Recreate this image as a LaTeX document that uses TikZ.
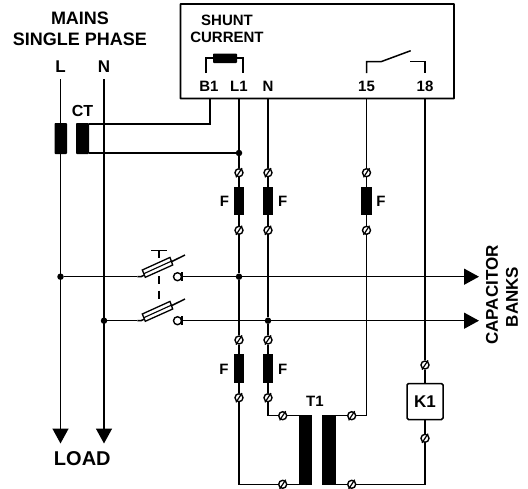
\documentclass[tikz,border=0pt]{standalone}
\usepackage{fontspec}
\setmainfont{Liberation Sans}
\usetikzlibrary{arrows.meta}
\tikzset{
  wire/.style={line width=1.5pt},
  box/.style={line width=1.9pt},
  coil/.style={fill=black,rounded corners=0.8pt},
  term/.style={circle,draw,line width=1.4pt,fill=white,inner sep=0pt,minimum size=8pt},
  dot/.style={circle,fill=black,inner sep=0pt,minimum size=6.5pt},
  lab/.style={font=\bfseries\fontsize{15}{15}\selectfont,inner sep=0pt},
  arr/.style={wire,-{Triangle[length=15pt,width=16pt]}}
}
\begin{document}
\begin{tikzpicture}[x=1pt, y=-1pt]
\useasboundingbox (0,0) rectangle (528,488);
% meter
\draw[box,rounded corners=0.5pt] (180.5,4) rectangle (454,98.5);
\coordinate (b1) at (210,98.5);
\coordinate (l1) at (239,98.5);
\coordinate (nn) at (268,98.5);
\coordinate (c15) at (366.5,98.5);
\coordinate (c18) at (425,98.5);
\node[lab] at (227,20.7) {SHUNT};
\node[lab] at (227,37.7) {CURRENT};
\node[lab] at (209,86) {B1};
\node[lab] at (239,86) {L1};
\node[lab] at (268,86) {N};
\node[lab] at (366.5,86) {15};
\node[lab] at (425,86) {18};
\draw[wire] (206,73)--(206,58)--(243,58)--(243,73);
\fill[coil] (213,53.5) rectangle (237,63);
\draw[wire] (366.5,73)--(366.5,61.7)--(381,61.7)--(410.7,50.7);
\draw[wire] (410,61.7)--(425,61.7)--(425,73);
% mains
\node[lab,font=\bfseries\fontsize{18}{18}\selectfont] at (80,18.5) {MAINS};
\node[lab,font=\bfseries\fontsize{18}{18}\selectfont] at (80,39.5) {SINGLE PHASE};
\node[lab,font=\bfseries\fontsize{17}{17}\selectfont] at (60.5,67) {L};
\node[lab,font=\bfseries\fontsize{17}{17}\selectfont] at (104,67) {N};
\node[lab,font=\bfseries\fontsize{16}{16}\selectfont] at (82.5,111) {CT};
\node[lab,font=\bfseries\fontsize{20}{20}\selectfont] at (82.3,459) {LOAD};
\coordinate (ltop) at (60.5,79);
\coordinate (lend) at (60.5,443.5);
\coordinate (ntop) at (104,79);
\coordinate (nend) at (104,443.5);
\draw[arr] (ltop)--(lend);
\draw[arr] (ntop)--(nend);
% CT
\fill[coil] (54.5,123) rectangle (67,154);
\fill[coil] (76,123) rectangle (89,154);
\coordinate (cta) at (89,124);
\coordinate (ctb) at (89,153);
\node[dot] (d1) at (239,153) {};
\draw[wire] (b1)--(cta -| b1)--(cta);
\draw[wire] (ctb)--(d1);
% horizontal lines
\node[dot] (d2) at (60.5,276.7) {};
\node[dot] (d3) at (104,320.7) {};
\node[dot] (d4) at (239,276.7) {};
\node[dot] (d5) at (268,320.7) {};
\coordinate (s1) at (137.3,276.7);
\coordinate (s2) at (137.3,320.7);
\draw[wire] (d2)--(s1);
\draw[wire] (d3)--(s2);
\foreach \y/\n in {276.7/a,320.7/b} {
  \begin{scope}[shift={(0,\y)}]
  \draw[wire] (137.3,0)--(141,0)--(185,-21.7);
  \draw[line width=1.3pt,fill=white] (142.3,-6.7)--(170,-19.3)--(172.7,-11.7)--(145.3,0.6)--cycle;
  \draw[line width=1.1pt] (143.8,-3)--(171.3,-15.5);
  \end{scope}
  \node[term] (q\n) at (177.5,\y) {};
  \coordinate (tip\n) at (479,\y);
  \draw[arr] (q\n.east)--(tip\n);
  \draw[wire] ([yshift=-4.5pt]q\n.east)--([yshift=4.5pt]q\n.east);
}
\draw[wire] (151,250.7)--(166.7,250.7);
\draw[wire] (159,250.7)--(159,258);
\draw[wire,dash pattern=on 8pt off 6.7pt] (159,276)--(159,299.3);
\node[lab,font=\bfseries\fontsize{17}{17}\selectfont,rotate=90] at (492,295) {CAPACITOR};
\node[lab,font=\bfseries\fontsize{17}{17}\selectfont,rotate=90] at (512,297) {BANKS};
% fuses
\foreach \x/\n in {239/a,268/b,366.5/c} {
  \node[term] (t\n1) at (\x,172.7) {};
  \node[term] (t\n2) at (\x,230.3) {};
  \fill[coil,rounded corners=0pt] (\x-5.3,186.7) rectangle (\x+5.3,215.3);
  \draw[wire] (t\n1)--(t\n2);
}
\foreach \x/\n in {239/a,268/b} {
  \node[term] (u\n1) at (\x,340) {};
  \node[term] (u\n2) at (\x,397.7) {};
  \fill[coil,rounded corners=0pt] (\x-5.3,354.3) rectangle (\x+5.3,383.3);
  \draw[wire] (u\n1)--(u\n2);
}
\node[lab] at (224.5,201) {F};
\node[lab] at (282.7,201) {F};
\node[lab] at (381,201) {F};
\node[lab] at (224,369) {F};
\node[lab] at (282.7,369) {F};
\draw[wire] (l1)--(d1)--(ta1);
\draw[wire] (nn)--(tb1);
\draw[wire] (c15)--(tc1);
\draw[wire] (ta2)--(d4)--(ua1);
\draw[wire] (tb2)--(d5)--(ub1);
% T1
\fill[coil,rounded corners=0pt] (299.3,415) rectangle (312.3,485);
\fill[coil,rounded corners=0pt] (322.3,415) rectangle (335.7,485);
\node[lab] at (315,401.7) {T1};
\node[term] (p1) at (282.7,415.7) {};
\node[term] (p2) at (282.7,484.3) {};
\node[term] (p3) at (351.7,415.7) {};
\node[term] (p4) at (351.7,484.3) {};
\draw[wire] (ub2)--(ub2 |- p1)--(p1)--(299.3,415.7);
\draw[wire] (ua2)--(ua2 |- p2)--(p2)--(299.3,484.3);
\draw[wire] (335.7,415.7)--(p3)--(p3 -| tc2)--(tc2);
% K1
\node[draw,wire,fill=white,rounded corners=1.5pt,minimum width=36pt,minimum height=36pt,inner sep=0pt,font=\bfseries\fontsize{17}{17}\selectfont] (k1) at (425,401.5) {K1};
\node[term] (k2) at (425,365) {};
\node[term] (k3) at (425,438.3) {};
\draw[wire] (c18)--(k2)--(k1)--(k3);
\draw[wire] (k3)--(k3 |- p4)--(p4)--(335.7,484.3);
% slashes
\foreach \n in {ta1,ta2,tb1,tb2,tc1,tc2,ua1,ua2,ub1,ub2,p1,p2,p3,p4,k2,k3}
  \draw[line width=1.2pt] ([shift={(-3,4.6)}]\n.center)--([shift={(3,-4.6)}]\n.center);
\end{tikzpicture}
\end{document}
